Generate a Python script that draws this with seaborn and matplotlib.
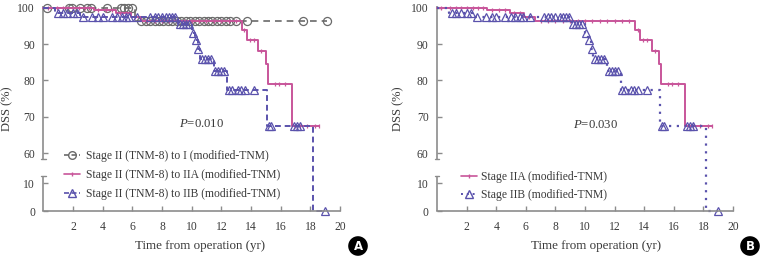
import numpy as np
import matplotlib
matplotlib.use("Agg")
import matplotlib.pyplot as plt
from matplotlib.lines import Line2D
import seaborn as sns

# ---------------- data ----------------
# Stage II (TNM-8) -> I (modified-TNM)
I_times = [0, 6.2, 19.1]
I_surv = [100, 96.4, 96.4]
I_cens = [0.25, 1.7, 1.95, 2.5, 2.95, 3.2, 4.3, 5.25, 5.45, 5.7, 5.95,
          6.6, 6.9, 7.2, 7.5, 7.8, 8.1, 8.4, 8.7, 9.0, 9.3, 9.6, 9.9,
          10.2, 10.5, 10.8, 11.1, 11.4, 11.7, 12.0, 12.3, 12.6, 13.0,
          13.7, 17.5, 19.1]

# Stage IIA (modified-TNM)
IIA_times = [0, 3.4, 4.9, 5.9, 6.6, 13.4, 13.7, 14.5, 15.0, 15.15, 16.75, 18.6]
IIA_surv = [100, 99.4, 98.6, 97.5, 96.5, 93.8, 91.2, 88.1, 84.5, 79.1, 67.4, 67.4]
IIA_cens = [0.3, 0.9, 1.3, 1.6, 2.0, 2.4, 2.8, 3.1, 3.7, 4.2, 4.6, 5.2, 5.6,
            6.2, 7.0, 7.5, 8.0, 8.5, 9.0, 9.5, 10.0, 10.5, 11.0, 11.5, 12.0,
            12.5, 13.0, 13.55, 13.9, 14.2, 14.7, 15.6, 15.9, 16.3,
            17.0, 17.3, 17.8, 18.3, 18.6]

# Stage IIB (modified-TNM)
IIB_times = [0, 0.8, 2.5, 9.1, 10.0, 10.2, 10.4, 10.55, 11.5, 12.4, 15.1, 18.2, 19.0]
IIB_surv = [100, 98.7, 97.5, 95.5, 93.0, 91.1, 88.6, 85.8, 82.6, 77.3, 67.4, 0, 0]
IIB_cens = [1.0, 1.3, 1.6, 2.0, 2.3, 2.7, 3.3, 3.7, 4.0, 4.6, 5.0, 5.3, 5.6,
            5.8, 6.3, 7.2, 7.5, 7.7, 8.0, 8.3, 8.5, 8.7, 8.9, 9.2, 9.4, 9.6,
            9.8, 10.1, 10.3, 10.45, 10.7, 10.9, 11.1, 11.3, 11.6, 11.8, 12.0,
            12.2, 12.5, 12.7, 13.1, 13.3, 13.6, 14.2, 15.2, 15.35, 16.9,
            17.1, 17.3, 19.0]

labels_A = ["Stage II (TNM-8) to I (modified-TNM)",
            "Stage II (TNM-8) to IIA (modified-TNM)",
            "Stage II (TNM-8) to IIB (modified-TNM)"]
labels_B = ["Stage IIA (modified-TNM)", "Stage IIB (modified-TNM)"]
p_A = "0.010"
p_B = "0.030"
x_ticks = [2, 4, 6, 8, 10, 12, 14, 16, 18, 20]
y_ticks = [0, 10, 60, 70, 80, 90, 100]

# ---------------- style ----------------
sns.set_theme(style="white")
plt.rcParams["font.family"] = ["Liberation Serif", "DejaVu Serif"]
plt.rcParams["mathtext.fontset"] = "custom"
plt.rcParams["mathtext.it"] = "Liberation Serif:italic"
plt.rcParams["mathtext.rm"] = "Liberation Serif"

GRAY = "#6a6a6a"
PINK = "#c8559a"
BLUE = "#5a52ac"
AXC = "#8c8c8c"
TXT = "#3a3a3a"
FS = 8.4
LFS = 9.4

# broken y axis as a piecewise-linear function scale
B1, B2 = 12.5, 58.3
K1, KG, K2 = 2.8, 17.0 / (B2 - B1), 3.65


def fwd(v):
    v = np.asarray(v, dtype=float)
    return np.where(v <= B1, v * K1,
                    np.where(v <= B2, B1 * K1 + (v - B1) * KG,
                             B1 * K1 + (B2 - B1) * KG + (v - B2) * K2))


def inv(u):
    u = np.asarray(u, dtype=float)
    u1 = B1 * K1
    u2 = u1 + (B2 - B1) * KG
    return np.where(u <= u1, u / K1,
                    np.where(u <= u2, B1 + (u - u1) / KG, B2 + (u - u2) / K2))


def surv_at(times, surv, t):
    idx = np.searchsorted(np.asarray(times), np.asarray(t), side="right") - 1
    return np.asarray(surv)[idx]


fig = plt.figure(figsize=(7.63, 2.57), dpi=100)
W, H = 763.0, 257.0
axA = fig.add_axes([43.3 / W, (H - 211) / H, (340 - 43.3) / W, 205 / H])
axB = fig.add_axes([437 / W, (H - 211) / H, (733 - 437) / W, 205 / H])


def setup_axes(ax, ylab_x):
    ax.set_yscale("function", functions=(fwd, inv))
    ax.set_xlim(0, 20)
    ax.set_ylim(0, 100.5)
    ax.set_xticks(x_ticks)
    ax.set_yticks(y_ticks)
    for s in ["top", "right", "left"]:
        ax.spines[s].set_visible(False)
    ax.spines["bottom"].set_color(AXC)
    ax.spines["bottom"].set_linewidth(1.2)
    ax.tick_params(axis="both", direction="in", length=3.5, width=1.0,
                   color=AXC, labelsize=FS, labelcolor=TXT)
    ax.tick_params(axis="y", pad=6)
    ax.tick_params(axis="x", pad=7)
    ax.tick_params(left=True, bottom=True)
    tr = ax.get_yaxis_transform()
    ax.plot([0, 0], [0, B1], transform=tr, color=AXC, lw=1.2, clip_on=False,
            solid_capstyle="butt")
    ax.plot([0, 0], [B2, 100.5], transform=tr, color=AXC, lw=1.2, clip_on=False,
            solid_capstyle="butt")
    d = 2.5 / 297
    for yb in (B1, B2):
        ax.plot([-d, d], [yb, yb], transform=tr, color=AXC, lw=1.0, clip_on=False)
    ax.set_xlabel("Time from operation (yr)", fontsize=LFS, color=TXT)
    ax.set_ylabel("DSS (%)", fontsize=LFS - 0.4, color=TXT)
    ax.yaxis.set_label_coords(ylab_x, 0.5)


def draw_curve(ax, times, surv, cens, color, ls, marker, ms, lw, mfc="none"):
    sns.lineplot(x=times, y=surv, ax=ax, color=color, linestyle=ls, lw=lw,
                 drawstyle="steps-post", estimator=None, sort=False,
                 clip_on=False)
    cy = surv_at(times, surv, cens)
    ax.plot(cens, cy, linestyle="none", marker=marker, ms=ms, mec=color,
            mfc=mfc, mew=0.9, color=color, clip_on=False)


# ---------------- panel A ----------------
setup_axes(axA, -0.1)
draw_curve(axA, I_times, I_surv, I_cens, GRAY, (0, (4, 3)), "o", 5.8, 1.2)
draw_curve(axA, IIA_times, IIA_surv, IIA_cens, PINK, "-", "|", 3.5, 1.4)
draw_curve(axA, IIB_times, IIB_surv, IIB_cens, BLUE, (0, (3, 2)), "^", 5.3, 1.4)
axA.xaxis.set_label_coords(0.53, -0.14)
axA.text(9.15, 68, "$P$=" + p_A, fontsize=FS + 0.8, color=TXT, va="center")

hA = [Line2D([], [], color=GRAY, ls=(0, (3, 1.5)), marker="o", ms=5.5, mfc="none", lw=1.2),
      Line2D([], [], color=PINK, ls="-", marker="|", ms=3.5, lw=1.2),
      Line2D([], [], color=BLUE, ls=(0, (3, 1.5)), marker="^", ms=5.3, mfc="none", lw=1.2)]
axA.legend(hA, labels_A, loc="upper left", bbox_to_anchor=(0.07, 0.297),
           frameon=False, fontsize=FS, borderpad=0, borderaxespad=0,
           handlelength=1.4, handletextpad=0.45, labelspacing=0.58,
           labelcolor=TXT)

# ---------------- panel B ----------------
setup_axes(axB, -0.112)
draw_curve(axB, IIA_times, IIA_surv, IIA_cens, PINK, "-", "|", 3.5, 1.4)
draw_curve(axB, IIB_times, IIB_surv, IIB_cens, BLUE, (0, (1, 2.5)), "^", 5.3, 1.6)
axB.xaxis.set_label_coords(0.537, -0.14)
axB.text(9.2, 67.7, "$P$=" + p_B, fontsize=FS + 0.8, color=TXT, va="center")

hB = [Line2D([], [], color=PINK, ls="-", marker="|", ms=3.5, lw=1.2),
      Line2D([], [], color=BLUE, ls=(0, (1, 2)), marker="^", ms=5.3, mfc="none", lw=1.4)]
axB.legend(hB, labels_B, loc="upper left", bbox_to_anchor=(0.08, 0.195),
           frameon=False, fontsize=FS, borderpad=0, borderaxespad=0,
           handlelength=1.4, handletextpad=0.3, labelspacing=0.52,
           labelcolor=TXT)

# ---------------- panel badges ----------------
for xpx, lab in ((358, "A"), (750, "B")):
    fig.text(xpx / W, 1 - 246 / H, lab, ha="center", va="center", color="white",
             fontsize=8.5, fontweight="bold", family="DejaVu Sans",
             bbox=dict(boxstyle="circle,pad=0.28", fc="black", ec="none"))

fig.savefig("out.png", dpi=100)
